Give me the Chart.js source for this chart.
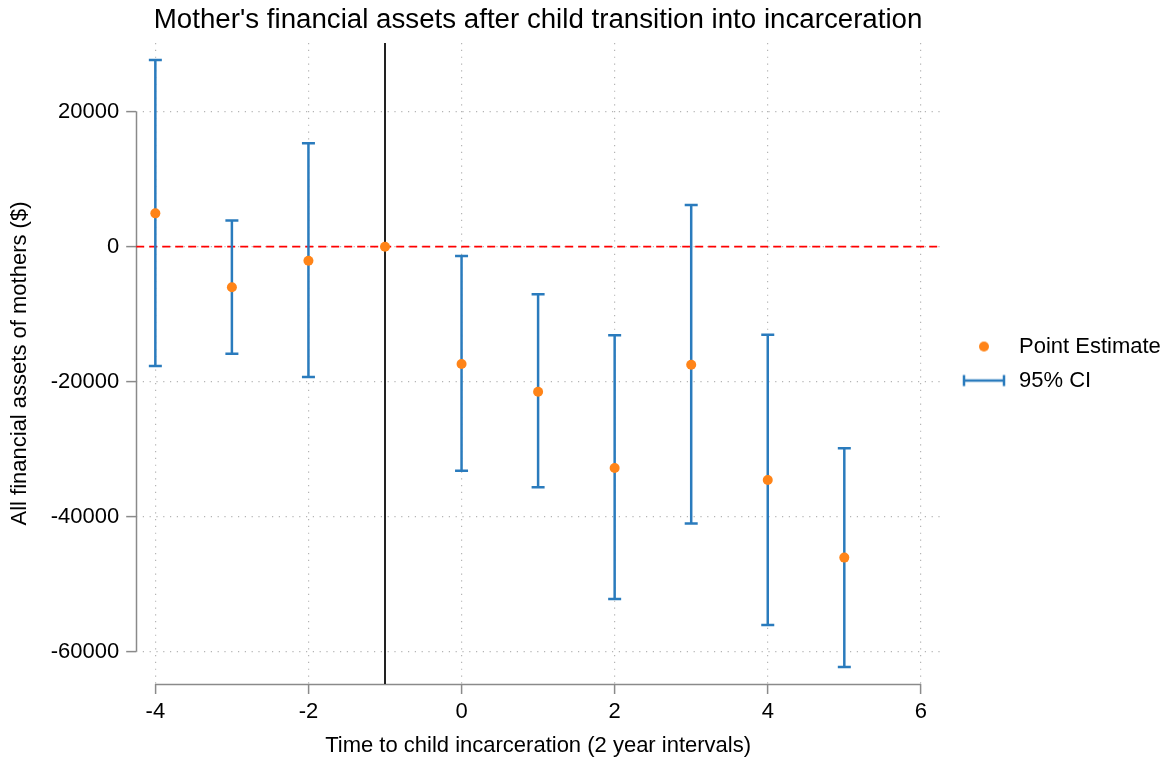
<!DOCTYPE html>
<html><head><meta charset="utf-8">
<script src="https://cdn.jsdelivr.net/npm/chart.js@4.4.1/dist/chart.umd.min.js"></script>
<style>html,body{margin:0;padding:0;background:#fff}#wrap{width:1166px;height:763px}</style>
</head><body><div id="wrap"><canvas id="c" width="1166" height="763"></canvas></div>
<script>
// ---- data ----
const periods   = [-4, -3, -2, -1, 0, 1, 2, 3, 4, 5];
const estimates = [4940, -6020, -2070, 0, -17380, -21480, -32790, -17480, -34570, -46070];
const ciLow     = [-17680, -15850, -19300, null, -33190, -35650, -52190, -41000, -56050, -62270];
const ciHigh    = [27660, 3900, 15320, null, -1380, -7050, -13130, 6180, -13040, -29870];
const xTicks = [-4, -2, 0, 2, 4, 6];
const yTicks = [-60000, -40000, -20000, 0, 20000];
const xRange = [-4.25, 6.25];
const yRange = [-64800, 30180];
const eventPeriod = -1;
const titleText = "Mother's financial assets after child transition into incarceration";
const xTitle = "Time to child incarceration (2 year intervals)";
const yTitle = "All financial assets of mothers ($)";
const legendLabels = ["Point Estimate", "95% CI"];

// ---- style ----
const FONT = "'Liberation Sans', Arial, Helvetica, sans-serif";
const BLUE = '#2a7bbd';
const ORANGE = '#ff8418';
const AXIS = '#8a8a8a';
const GRID = '#b4b4b4';

function makeCanvas(w, h, draw) {
  const c = document.createElement('canvas'); c.width = w; c.height = h;
  draw(c.getContext('2d')); return c;
}
// legend markers (content shifted 4px right of the image centre)
const dotImg = makeCanvas(20, 12, ctx => { ctx.fillStyle = ORANGE; ctx.beginPath(); ctx.arc(14, 6, 5, 0, Math.PI * 2); ctx.fill(); });
const ciImg = makeCanvas(52, 14, ctx => {
  ctx.strokeStyle = BLUE; ctx.lineWidth = 2.5; ctx.beginPath();
  ctx.moveTo(10, 7); ctx.lineTo(50, 7);
  ctx.moveTo(10, 1.5); ctx.lineTo(10, 12.5);
  ctx.moveTo(50, 1.5); ctx.lineTo(50, 12.5);
  ctx.stroke();
});

const pointData = periods.map((p, i) => ({x: p, y: estimates[i]}));
const ciData = [];
periods.forEach((p, i) => {
  if (ciLow[i] == null) return;
  ciData.push({x: p, y: ciLow[i]}, {x: p, y: ciHigh[i]}, {x: p, y: null});
});

const axisLines = {
  id: 'axisLines',
  beforeDatasetsDraw(chart) {
    const {ctx, scales: {x, y}, chartArea} = chart;
    ctx.save();
    ctx.strokeStyle = AXIS; ctx.lineWidth = 1.5; ctx.beginPath();
    const xl = Math.round(chartArea.left) + 0.5;
    ctx.moveTo(xl, y.getPixelForValue(yTicks[yTicks.length - 1]));
    ctx.lineTo(xl, y.getPixelForValue(yTicks[0]));
    const yb = Math.round(chartArea.bottom) + 0.5;
    ctx.moveTo(x.getPixelForValue(xTicks[0]), yb);
    ctx.lineTo(x.getPixelForValue(xTicks[xTicks.length - 1]), yb);
    ctx.stroke(); ctx.restore();
  }
};

new Chart(document.getElementById('c'), {
  type: 'line',
  data: {
    datasets: [
      {label: legendLabels[0], data: pointData, showLine: false, pointRadius: 5,
       pointBackgroundColor: ORANGE, pointBorderWidth: 0, pointHoverRadius: 5},
      {label: legendLabels[1], data: ciData, borderColor: BLUE, borderWidth: 2.5, spanGaps: false,
       pointStyle: 'line', pointRadius: 6.5, pointBorderColor: BLUE, pointBorderWidth: 2.5, pointHoverRadius: 6.5},
      {label: 'event', data: [{x: eventPeriod, y: yRange[1]}, {x: eventPeriod, y: yRange[0]}],
       borderColor: '#222222', borderWidth: 2, pointRadius: 0},
      {label: 'zero', data: [{x: xRange[0], y: 0}, {x: xRange[1], y: 0}],
       borderColor: '#ff0000', borderWidth: 1.7, borderDash: [8, 5], pointRadius: 0}
    ]
  },
  options: {
    responsive: false, animation: false, events: [],
    layout: {padding: {left: 0, right: 0, top: 0, bottom: 0}},
    scales: {
      x: {
        type: 'linear', min: xRange[0], max: xRange[1],
        afterBuildTicks: s => { s.ticks = xTicks.map(v => ({value: v})); },
        grid: {color: GRID, lineWidth: 1.2, drawTicks: true, tickLength: 10, tickColor: AXIS, tickWidth: 1.5, tickBorderDash: []},
        border: {display: false, dash: [1.2, 5.6]},
        ticks: {font: {family: FONT, size: 22}, color: '#000', padding: 4.8, maxRotation: 0, autoSkip: false},
        title: {display: true, text: xTitle, font: {family: FONT, size: 22}, color: '#000', padding: {top: 2.8, bottom: 3.8}}
      },
      y: {
        type: 'linear', min: yRange[0], max: yRange[1],
        afterBuildTicks: s => { s.ticks = yTicks.map(v => ({value: v})); },
        grid: {color: GRID, lineWidth: 1.2, drawTicks: true, tickLength: 10, tickColor: AXIS, tickWidth: 1.5, tickBorderDash: []},
        border: {display: false, dash: [1.2, 5.6]},
        ticks: {font: {family: FONT, size: 22}, color: '#000', padding: 7, callback: v => String(v)},
        title: {display: true, text: yTitle, font: {family: FONT, size: 22}, color: '#000', padding: {top: 6.8, bottom: 10.5}}
      }
    },
    plugins: {
      title: {display: true, fullSize: false, text: titleText, font: {family: FONT, size: 27.7, weight: 'normal'}, color: '#000', padding: {top: 4, bottom: 5.8}},
      tooltip: {enabled: false},
      legend: {
        position: 'right', fullSize: false, maxWidth: 226,
        labels: {
          usePointStyle: true, pointStyleWidth: 56, boxHeight: 14, padding: 12,
          font: {family: FONT, size: 22}, color: '#000',
          generateLabels: () => [
            {text: legendLabels[0], pointStyle: dotImg, datasetIndex: 0, fillStyle: ORANGE, strokeStyle: ORANGE, lineWidth: 0, hidden: false, fontColor: '#000'},
            {text: legendLabels[1], pointStyle: ciImg, datasetIndex: 1, fillStyle: BLUE, strokeStyle: BLUE, lineWidth: 0, hidden: false, fontColor: '#000'}
          ]
        }
      }
    }
  },
  plugins: [axisLines]
});
</script></body></html>
